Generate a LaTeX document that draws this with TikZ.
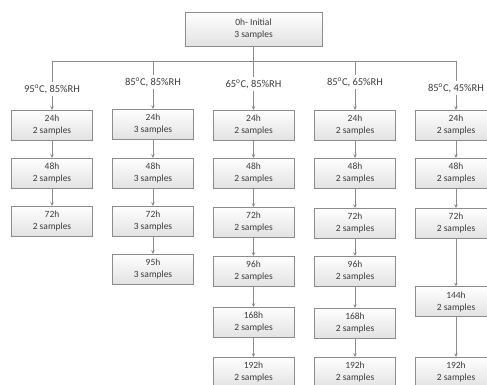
\documentclass[tikz,border=0pt]{standalone}
\usepackage{fontspec}
\setmainfont{Carlito}
\usepackage{amsmath}
\usetikzlibrary{arrows.meta}
\definecolor{edgegray}{RGB}{140,140,140}
\definecolor{fillgray}{RGB}{226,226,226}
\definecolor{textgray}{RGB}{60,60,60}
\tikzset{
	stagebox/.style={draw=edgegray, top color=white, bottom color=fillgray, text=textgray, minimum width=81pt, minimum height=30pt, align=center, inner sep=1pt, font=\fontsize{9.5}{12}\selectfont},
	condlabel/.style={inner sep=2pt, text=textgray, font=\fontsize{10.5}{12}\selectfont},
	link/.style={draw=edgegray, semithick},
	tip/.style={-{Stealth[length=3.5pt,width=3.5pt]}}
}
\newcommand{\degC}{\textsuperscript{o}C}
\begin{document}
\begin{tikzpicture}[x=1pt,y=-1pt]
	\useasboundingbox (0,0) rectangle (487,385);
	\clip (0,0) rectangle (487,385);
	% initial state
	\node[stagebox, minimum width=137pt, minimum height=34pt] (init) at (253.5,29) {0h- Initial\\3 samples};
	\coordinate (bus) at (253.5,61);
	\coordinate (busA) at (52,61);
	\coordinate (busB) at (153,61);
	\coordinate (busD) at (355,61);
	\coordinate (busE) at (456,61);
	\draw[link] (init) -- (bus);
	\draw[link] (busA) -- (busE);
	% conditions
	\node[condlabel] (condA) at (52,89) {95\degC, 85\%RH};
	\node[condlabel] (condB) at (153,82) {85\degC, 85\%RH};
	\node[condlabel] (condC) at (253.5,84) {65\degC, 85\%RH};
	\node[condlabel] (condD) at (355,82) {85\degC, 65\%RH};
	\node[condlabel] (condE) at (456,88) {85\degC, 45\%RH};
	\draw[link] (busA) -- (condA);
	\draw[link] (busB) -- (condB);
	\draw[link] (bus) -- (condC);
	\draw[link] (busD) -- (condD);
	\draw[link] (busE) -- (condE);
	% 95C column
	\node[stagebox] (a1) at (52,125) {24h\\2 samples};
	\node[stagebox] (a2) at (52,173) {48h\\2 samples};
	\node[stagebox] (a3) at (52,221) {72h\\2 samples};
	% 85C 85RH column
	\node[stagebox] (b1) at (153,124) {24h\\3 samples};
	\node[stagebox] (b2) at (153,173) {48h\\3 samples};
	\node[stagebox] (b3) at (153,221) {72h\\3 samples};
	\node[stagebox] (b4) at (153,269) {95h\\3 samples};
	% 65C column
	\node[stagebox] (c1) at (253.5,125) {24h\\2 samples};
	\node[stagebox] (c2) at (253.5,173) {48h\\2 samples};
	\node[stagebox] (c3) at (253.5,222) {72h\\2 samples};
	\node[stagebox] (c4) at (253.5,271) {96h\\2 samples};
	\node[stagebox] (c5) at (253.5,322) {168h\\2 samples};
	\node[stagebox] (c6) at (253.5,372) {192h\\2 samples};
	% 85C 65RH column
	\node[stagebox] (d1) at (355,125) {24h\\2 samples};
	\node[stagebox] (d2) at (355,173) {48h\\2 samples};
	\node[stagebox] (d3) at (355,223) {72h\\2 samples};
	\node[stagebox] (d4) at (355,271) {96h\\2 samples};
	\node[stagebox] (d5) at (355,323) {168h\\2 samples};
	\node[stagebox] (d6) at (355,372) {192h\\2 samples};
	% 85C 45RH column
	\node[stagebox] (e1) at (456,125) {24h\\2 samples};
	\node[stagebox] (e2) at (456,173) {48h\\2 samples};
	\node[stagebox] (e3) at (456,223) {72h\\2 samples};
	\node[stagebox] (e4) at (456,301.5) {144h\\2 samples};
	\node[stagebox] (e5) at (456,372) {192h\\2 samples};
	% arrows
	\draw[link][tip] (condA) -- (a1);
	\draw[link][tip] (condB) -- (b1);
	\draw[link][tip] (condC) -- (c1);
	\draw[link][tip] (condD) -- (d1);
	\draw[link][tip] (condE) -- (e1);
	\foreach \from/\to in {a1/a2,a2/a3,b1/b2,b2/b3,b3/b4,c1/c2,c2/c3,c3/c4,c4/c5,c5/c6,d1/d2,d2/d3,d3/d4,d4/d5,d5/d6,e1/e2,e2/e3,e3/e4,e4/e5}
		\draw[link][tip] (\from) -- (\to);
\end{tikzpicture}
\end{document}
